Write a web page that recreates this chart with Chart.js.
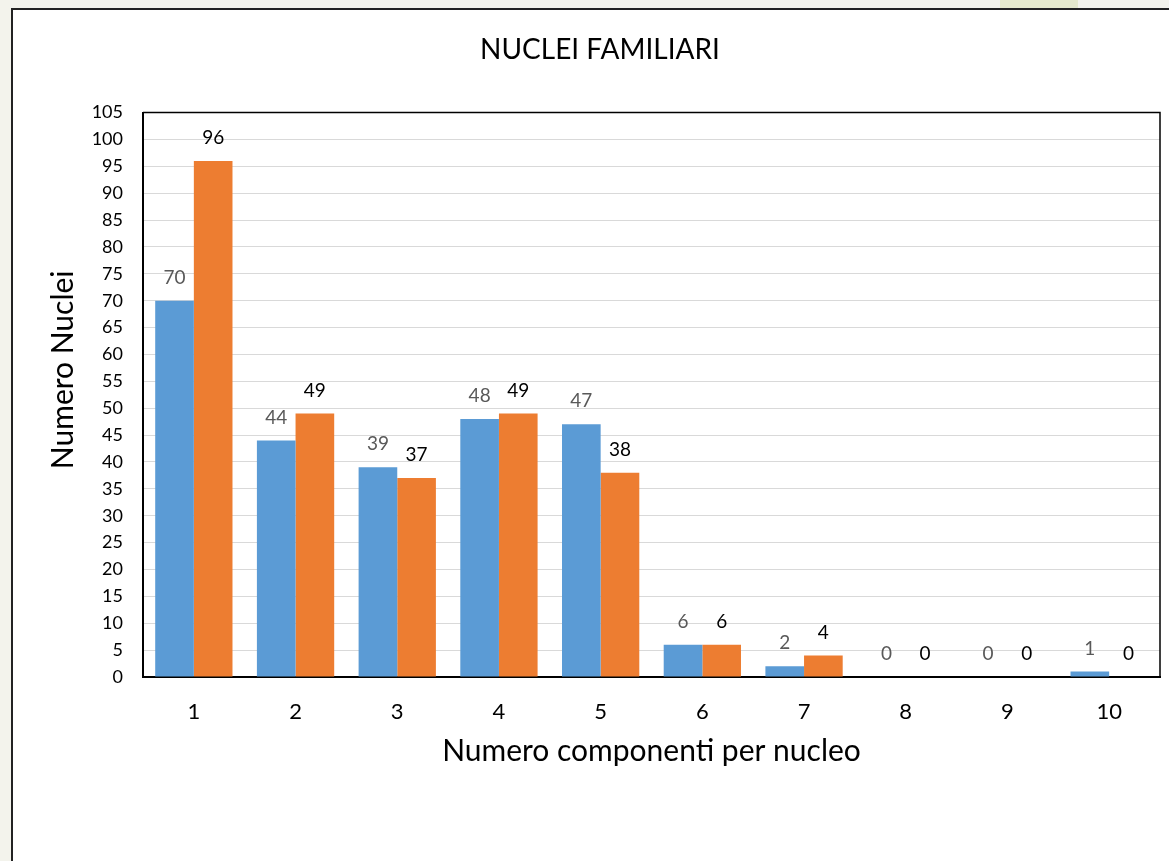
<!DOCTYPE html>
<html>
<head>
<meta charset="utf-8">
<script src="https://cdn.jsdelivr.net/npm/chart.js@4/dist/chart.umd.min.js"></script>
<style>
  html, body { margin: 0; padding: 0; width: 1169px; height: 861px; overflow: hidden; background: #f3f3ec; }
  #strip { position: absolute; left: 1000px; top: 0; width: 78px; height: 8px; background: #e4e8cc; }
  #frame { position: absolute; left: 11px; top: 8px; width: 1200px; height: 900px; background: #fff;
           border-left: 2px solid #222; border-top: 2px solid #222; }
  #wrap { position: absolute; left: 0; top: 0; width: 1169px; height: 861px; }
</style>
</head>
<body>
<div id="strip"></div>
<div id="frame"></div>
<div id="wrap"><canvas id="chart"></canvas></div>
<script>
// dati del grafico
const categorie = ['1', '2', '3', '4', '5', '6', '7', '8', '9', '10'];
const serieBlu = [70, 44, 39, 48, 47, 6, 2, 0, 0, 1];
const serieArancio = [96, 49, 37, 49, 38, 6, 4, 0, 0, 0];
const tickY = [0, 5, 10, 15, 20, 25, 30, 35, 40, 45, 50, 55, 60, 65, 70, 75, 80, 85, 90, 95, 100, 105];

const FONT = 'Lato, "Open Sans", sans-serif';

// etichette sopra le barre
const etichette = {
  id: 'etichette',
  afterDatasetsDraw(chart) {
    const ctx = chart.ctx;
    const colori = ['#595959', '#000000'];
    ctx.save();
    ctx.font = '19px ' + FONT;
    ctx.textAlign = 'center';
    ctx.textBaseline = 'middle';
    chart.data.datasets.forEach((ds, i) => {
      const meta = chart.getDatasetMeta(i);
      ctx.fillStyle = colori[i];
      meta.data.forEach((bar, j) => {
        ctx.fillText(String(ds.data[j]), bar.x, bar.y - 23);
      });
    });
    ctx.restore();
  }
};

// bordo dell'area e titolo asse Y
const cornice = {
  id: 'cornice',
  afterDraw(chart) {
    const ctx = chart.ctx;
    const a = chart.chartArea;
    ctx.save();
    ctx.strokeStyle = '#000';
    ctx.lineWidth = 1.5;
    ctx.beginPath();
    ctx.moveTo(a.left, a.top);
    ctx.lineTo(a.right, a.top);
    ctx.lineTo(a.right, a.bottom);
    ctx.stroke();

    ctx.translate(63, (a.top + a.bottom) / 2 - 25);
    ctx.rotate(-Math.PI / 2);
    ctx.font = '30px ' + FONT;
    ctx.fillStyle = '#000';
    ctx.textAlign = 'center';
    ctx.textBaseline = 'middle';
    ctx.fillText('Numero Nuclei', 0, 0);
    ctx.restore();
  }
};

const ctx = document.getElementById('chart').getContext('2d');
new Chart(ctx, {
  type: 'bar',
  data: {
    labels: categorie,
    datasets: [{
      label: 'Serie 1',
      data: serieBlu,
      backgroundColor: '#5b9bd5',
      borderWidth: 0
    }, {
      label: 'Serie 2',
      data: serieArancio,
      backgroundColor: '#ed7d31',
      borderWidth: 0
    }]
  },
  options: {
    responsive: true,
    maintainAspectRatio: false,
    animation: false,
    datasets: {
      bar: { categoryPercentage: 0.76, barPercentage: 1.0 }
    },
    layout: {
      padding: { left: 40, right: 9, top: 0, bottom: 0 }
    },
    scales: {
      x: {
        afterFit: (scale) => { scale.height = 184; },
        grid: { display: false, drawTicks: false },
        border: { color: '#000', width: 2 },
        ticks: {
          color: '#000',
          padding: 22,
          font: { family: FONT, size: 22 }
        },
        title: {
          display: true,
          text: 'Numero componenti per nucleo',
          color: '#000',
          font: { family: FONT, size: 30 },
          padding: { top: 0, bottom: 92 }
        }
      },
      y: {
        min: 0,
        max: 105,
        afterFit: (scale) => { scale.width = 103; },
        afterBuildTicks: (scale) => { scale.ticks = tickY.map(v => ({ value: v })); },
        grid: { color: '#d9d9d9', lineWidth: 1, drawTicks: false },
        border: { color: '#000', width: 2 },
        ticks: {
          color: '#000',
          padding: 20,
          font: { family: FONT, size: 18 }
        }
      }
    },
    plugins: {
      legend: { display: false },
      tooltip: { enabled: false },
      title: {
        display: true,
        text: 'NUCLEI FAMILIARI',
        color: '#000',
        font: { family: FONT, size: 28, weight: 'normal' },
        padding: { top: 33, bottom: 46 }
      }
    }
  },
  plugins: [etichette, cornice]
});
</script>
</body>
</html>
